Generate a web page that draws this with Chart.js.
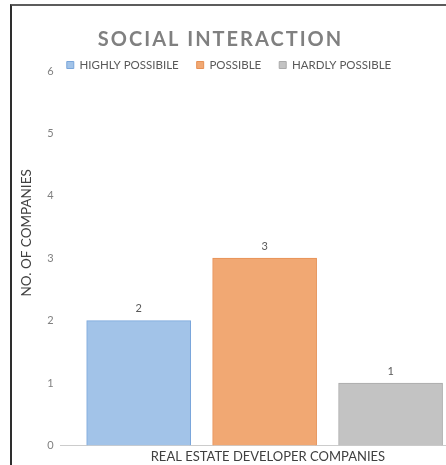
<!DOCTYPE html>
<html>
<head>
<meta charset="utf-8">
<title>Social Interaction</title>
<script src="https://cdn.jsdelivr.net/npm/chart.js@4.4.1/dist/chart.umd.min.js"></script>
<style>
  html, body { margin: 0; padding: 0; background: #ffffff; overflow: hidden; }
  #wrap { position: relative; width: 446px; height: 465px; }
  #frame {
    position: absolute; left: 10px; top: 4px; right: 0; bottom: 0;
    border-left: 2px solid #2e2e2e; border-top: 2px solid #5c5c5c;
    pointer-events: none;
  }
  canvas { display: block; }
</style>
</head>
<body>
<div id="wrap">
  <canvas id="chart" width="446" height="465"></canvas>
  <div id="frame"></div>
</div>
<script>
// Survey results: number of real estate developer companies per answer
const chartTitle = 'SOCIAL INTERACTION';
const seriesNames = ['HIGHLY POSSIBILE', 'POSSIBLE', 'HARDLY POSSIBLE'];
const companyCounts = [2, 3, 1];
const yTickValues = [0, 1, 2, 3, 4, 5, 6];
const xAxisTitle = 'REAL ESTATE DEVELOPER COMPANIES';
const yAxisTitle = 'NO. OF COMPANIES';

// Series colours
const fillColors = ['#a2c3e8', '#f1a873', '#c3c3c3'];
const edgeColors = ['#7aa6db', '#e69055', '#aaaaaa'];

Chart.defaults.font.family = 'Lato, "Open Sans", sans-serif';

// Writes each bar's value just above it
const valueLabels = {
  id: 'valueLabels',
  afterDatasetsDraw(chart) {
    const ctx = chart.ctx;
    ctx.save();
    ctx.font = '11px Lato, "Open Sans", sans-serif';
    ctx.fillStyle = '#595959';
    ctx.textAlign = 'center';
    ctx.textBaseline = 'middle';
    chart.data.datasets.forEach((ds, i) => {
      const meta = chart.getDatasetMeta(i);
      meta.data.forEach((bar, j) => {
        const v = ds.data[j].y;
        ctx.fillText(String(v), bar.x, bar.y - 12);
      });
    });
    ctx.restore();
  }
};

// Spreads the letters of the chart title a little
const spacedTitle = {
  id: 'spacedTitle',
  afterLayout(chart) {
    const block = chart.titleBlock;
    if (!block || block._spaced) return;
    const draw = block.draw.bind(block);
    block.draw = function () {
      const ctx = this.ctx;
      const prev = ctx.letterSpacing;
      ctx.letterSpacing = '2px';
      draw();
      ctx.letterSpacing = prev || '0px';
    };
    block._spaced = true;
  }
};

const datasets = seriesNames.map((name, i) => ({
  label: name,
  data: [{ x: i, y: companyCounts[i] }],
  backgroundColor: fillColors[i],
  borderColor: edgeColors[i],
  borderWidth: 1,
  barThickness: 104,
  grouped: false
}));

new Chart(document.getElementById('chart'), {
  type: 'bar',
  data: { datasets },
  options: {
    responsive: false,
    animation: false,
    layout: { padding: { left: 12, right: 0, top: 0, bottom: 0 } },
    plugins: {
      tooltip: { enabled: false },
      title: {
        display: true,
        text: chartTitle + '\u2003',
        color: '#808080',
        font: { size: 20, weight: 'bold', lineHeight: 1.2 },
        padding: { top: 28, bottom: -10.75 }
      },
      legend: {
        position: 'top',
        align: 'center',
        maxHeight: 29.75,
        labels: {
          boxWidth: 7,
          boxHeight: 7,
          padding: 18,
          color: '#595959',
          font: { size: 11.5 }
        }
      }
    },
    scales: {
      x: {
        type: 'linear',
        offset: false,
        min: -0.62,
        max: 2.44,
        ticks: { display: false },
        grid: { display: false, drawTicks: false },
        border: { display: true, color: '#cccccc', width: 1 },
        title: {
          display: true,
          text: '\u2003\u2003\u2003' + xAxisTitle,
          color: '#404040',
          font: { size: 13 },
          padding: { top: 4, bottom: 0 }
        }
      },
      y: {
        min: 0,
        max: 6,
        afterBuildTicks: (scale) => { scale.ticks = yTickValues.map(v => ({ value: v })); },
        ticks: { color: '#808080', font: { size: 11 }, padding: 7 },
        grid: { display: false, drawTicks: false },
        border: { display: false },
        title: {
          display: true,
          text: '\u2003\u2003\u2003\u2003\u2003' + yAxisTitle,
          color: '#404040',
          font: { size: 13.5 },
          padding: { top: 7, bottom: 5 }
        }
      }
    }
  },
  plugins: [valueLabels, spacedTitle]
});
</script>
</body>
</html>
